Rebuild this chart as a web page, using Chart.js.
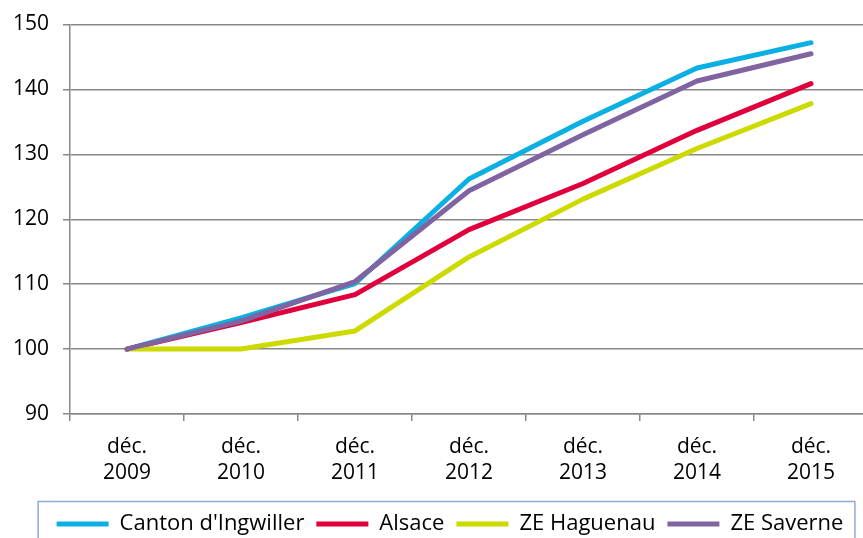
<!DOCTYPE html>
<html>
<head>
<meta charset="utf-8">
<script src="https://cdn.jsdelivr.net/npm/chart.js@4/dist/chart.umd.min.js"></script>
<style>
html,body{margin:0;padding:0;background:#fff;overflow:hidden;}
#wrap{position:absolute;left:0;top:0;width:868px;height:545px;}
</style>
</head>
<body>
<div id="wrap"><canvas id="c" width="868" height="545"></canvas></div>
<script>
const categories = [['déc.','2009'],['déc.','2010'],['déc.','2011'],['déc.','2012'],['déc.','2013'],['déc.','2014'],['déc.','2015']];
const seriesNames = ["Canton d'Ingwiller", 'Alsace', 'ZE Haguenau', 'ZE Saverne'];
const cantonIngwiller = [100, 104.8, 110.1, 126.2, 135.1, 143.3, 147.2];
const alsace = [100, 104.1, 108.4, 118.4, 125.5, 133.7, 140.9];
const zeHaguenau = [100, 100.0, 102.8, 114.2, 123.1, 130.9, 137.8];
const zeSaverne = [100, 104.3, 110.4, 124.4, 133.0, 141.3, 145.5];
const yTicks = [90, 100, 110, 120, 130, 140, 150];
const colors = ['#0aafe3', '#e0003c', '#ccda00', '#8064a2'];
const seriesValues = [cantonIngwiller, alsace, zeHaguenau, zeSaverne];

const FONT = 'Open Sans';
const LEGEND_SHIFT = 16;
const legendBox = {
  id: 'legendBox',
  afterUpdate(chart) {
    const lg = chart.legend;
    if (!lg) return;
    lg.left += LEGEND_SHIFT;
    lg.right += LEGEND_SHIFT;
    lg.adjustHitBoxes();
  },
  afterDraw(chart) {
    const lg = chart.legend;
    if (!lg || !lg.legendHitBoxes || !lg.legendHitBoxes.length) return;
    const hb = lg.legendHitBoxes;
    const l = Math.min(...hb.map(h => h.left)) - 19;
    const r = Math.max(...hb.map(h => h.left + h.width)) + 11;
    const ctx = chart.ctx;
    ctx.save();
    ctx.strokeStyle = '#8eaad6';
    ctx.lineWidth = 1.5;
    ctx.strokeRect(l + 0.5, lg.top + 0.5, r - l, 200);
    ctx.restore();
  }
};

new Chart(document.getElementById('c'), {
  type: 'line',
  data: {
    labels: categories,
    datasets: seriesNames.map((n, i) => ({
      label: n,
      data: seriesValues[i],
      borderColor: colors[i],
      backgroundColor: colors[i],
      borderWidth: 5,
      borderCapStyle: 'round',
      borderJoinStyle: 'round',
      pointRadius: 0,
      pointHoverRadius: 0,
      pointStyle: 'line',
      tension: 0,
      fill: false,
      order: 4 - i
    }))
  },
  options: {
    responsive: false,
    animation: false,
    devicePixelRatio: 1,
    layout: { padding: { top: 20, left: 0, right: 0, bottom: 0 } },
    plugins: {
      tooltip: { enabled: false },
      legend: {
        position: 'bottom',
        labels: {
          usePointStyle: true,
          pointStyle: 'line',
          pointStyleWidth: 52,
          boxHeight: 22,
          padding: 12,
          color: '#000',
          font: { family: FONT, size: 22 },
          sort: (a, b) => a.datasetIndex - b.datasetIndex
        }
      }
    },
    scales: {
      x: {
        type: 'category',
        offset: true,
        afterFit: s => { s.height = 87; },
        grid: { display: true, drawOnChartArea: false, offset: true, tickLength: 7, color: '#888', lineWidth: 1.5 },
        border: { color: '#888', width: 1.5 },
        ticks: { color: '#000', padding: 13, maxRotation: 0, font: { family: FONT, size: 21, lineHeight: 1.24 } }
      },
      y: {
        min: 90, max: 150,
        afterFit: s => { s.width = 70; },
        afterBuildTicks: s => { s.ticks = yTicks.map(v => ({ value: v })); },
        grid: { color: '#888', lineWidth: 1.5, tickLength: 7 },
        border: { color: '#888', width: 1.5 },
        ticks: { color: '#000', padding: 14, font: { family: FONT, size: 21, lineHeight: 1.0 } }
      }
    }
  },
  plugins: [legendBox]
});
</script>
</body>
</html>
